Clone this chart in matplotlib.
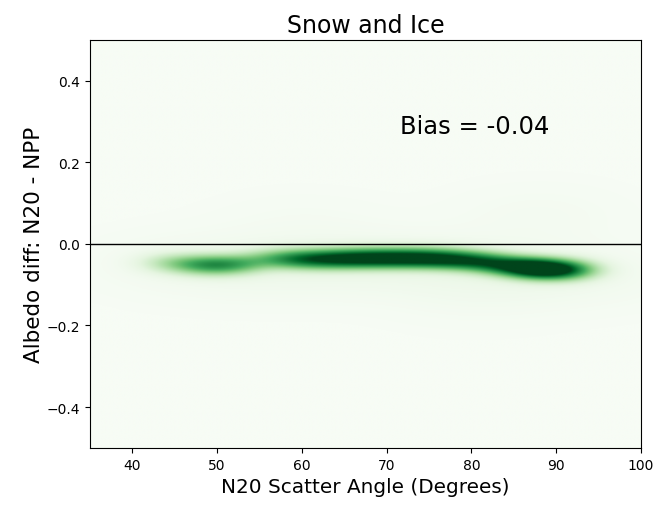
import matplotlib

matplotlib.use("Agg")
import matplotlib.pyplot as plt
import numpy as np
from matplotlib.colors import PowerNorm

# core of the density band: sample centres (angle, albedo diff) and weights
core_x = [44, 47, 50, 53, 56, 59, 62, 65, 68, 71, 74, 77, 80, 83, 86, 88, 90, 92]
core_y = [-0.046, -0.050, -0.052, -0.049, -0.036, -0.037, -0.037, -0.036, -0.035,
          -0.035, -0.035, -0.037, -0.041, -0.049, -0.057, -0.061, -0.063, -0.064]
core_w = [0.2, 0.45, 0.65, 0.4, 0.3, 0.65, 0.8, 0.9, 0.95,
          0.95, 0.95, 0.9, 0.8, 0.8, 0.95, 1.0, 0.85, 0.45]

# faint halo around the band
halo_x = [45, 55, 65, 75, 85, 95, 88, 60, 80]
halo_y = [-0.05, -0.06, -0.05, -0.05, -0.07, -0.08, 0.07, 0.05, -0.13]
halo_w = [0.02, 0.03, 0.03, 0.03, 0.03, 0.02, 0.015, 0.01, 0.012]

bias_text = "Bias = -0.04"


def density(gx, gy, xs, ys, ws, bx, by):
    z = np.zeros_like(gx)
    for x0, y0, w in zip(xs, ys, ws):
        z += w * np.exp(-0.5 * ((gx - x0) / bx) ** 2 - 0.5 * ((gy - y0) / by) ** 2)
    return z


gx, gy = np.meshgrid(np.linspace(35, 100, 600), np.linspace(-0.5, 0.5, 800))
z = density(gx, gy, core_x, core_y, core_w, 2.4, 0.016)
z += density(gx, gy, halo_x, halo_y, halo_w, 7.0, 0.05)

fig = plt.figure(figsize=(6.56, 5.06), dpi=100)
ax = fig.add_axes([0.137, 0.113, 0.84, 0.806])
ax.set_facecolor("#f4f9f2")
ax.imshow(z, extent=(35, 100, -0.5, 0.5), origin="lower", aspect="auto",
          cmap="Greens", norm=PowerNorm(0.8, vmin=0, vmax=z.max() * 0.62),
          interpolation="bilinear")
ax.axhline(0, color="black", linewidth=1)

ax.set_xlim(35, 100)
ax.set_ylim(-0.5, 0.5)
ax.set_xticks([40, 50, 60, 70, 80, 90, 100])
ax.set_yticks([-0.4, -0.2, 0.0, 0.2, 0.4])
ax.tick_params(labelsize=10)
ax.set_xlabel("N20 Scatter Angle (Degrees)", fontsize=14.4)
ax.set_ylabel("Albedo diff: N20 - NPP", fontsize=15.5, labelpad=2)
ax.set_title("Snow and Ice", fontsize=17, pad=6)
ax.text(71.6, 0.29, bias_text, fontsize=17.5, va="center", ha="left")

fig.savefig("out.png", dpi=100)
